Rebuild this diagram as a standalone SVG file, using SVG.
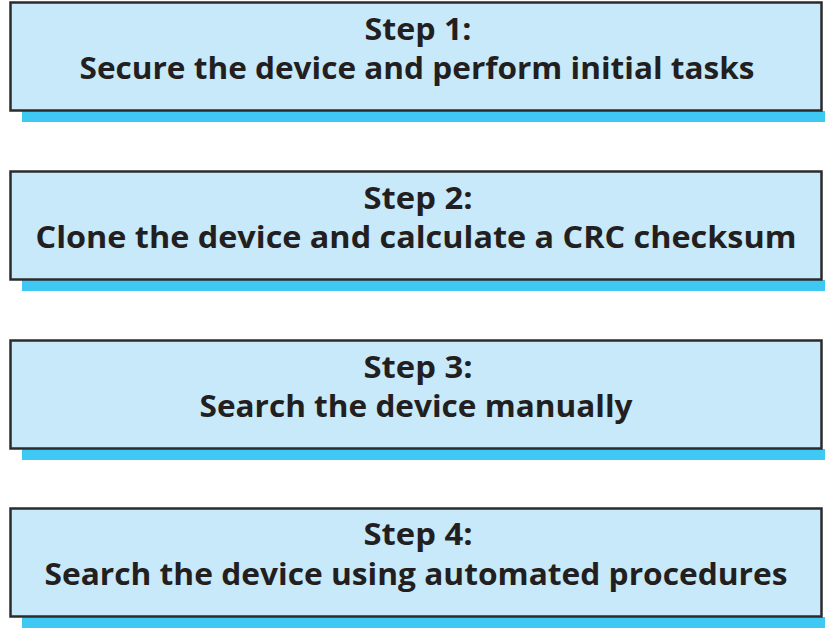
<svg xmlns="http://www.w3.org/2000/svg" width="825" height="639" viewBox="0 0 825 639">
<style>
.shadow{fill:#3ec8f3;}
.box{fill:#c7e9f9;stroke:#2b2b2b;stroke-width:2.5;}
.t{font-family:"Open Sans",Lato,sans-serif;font-weight:bold;font-size:30px;fill:#231f20;text-anchor:middle;}
</style>
<rect width="825" height="639" fill="#ffffff"/>
<g id="step1">
<rect class="shadow" x="22" y="111" width="803" height="11"/>
<rect class="box" x="10.5" y="2.5" width="811" height="108"/>
<text class="t" x="418" y="40" textLength="107" lengthAdjust="spacingAndGlyphs">Step 1:</text>
<text class="t" x="417" y="79" textLength="675" lengthAdjust="spacingAndGlyphs">Secure the device and perform initial tasks</text>
</g>
<g id="step2">
<rect class="shadow" x="22" y="280" width="803" height="11"/>
<rect class="box" x="10.5" y="171.5" width="811" height="108"/>
<text class="t" x="418" y="209" textLength="109" lengthAdjust="spacingAndGlyphs">Step 2:</text>
<text class="t" x="416" y="248" textLength="761" lengthAdjust="spacingAndGlyphs">Clone the device and calculate a CRC checksum</text>
</g>
<g id="step3">
<rect class="shadow" x="22" y="449" width="803" height="11"/>
<rect class="box" x="10.5" y="340.5" width="811" height="108"/>
<text class="t" x="418" y="378" textLength="109" lengthAdjust="spacingAndGlyphs">Step 3:</text>
<text class="t" x="416" y="417" textLength="433" lengthAdjust="spacingAndGlyphs">Search the device manually</text>
</g>
<g id="step4">
<rect class="shadow" x="22" y="617" width="803" height="11"/>
<rect class="box" x="10.5" y="508.5" width="811" height="108"/>
<text class="t" x="418" y="545" textLength="109" lengthAdjust="spacingAndGlyphs">Step 4:</text>
<text class="t" x="416" y="585" textLength="743" lengthAdjust="spacingAndGlyphs">Search the device using automated procedures</text>
</g>
<g id="connectors"></g>
</svg>
